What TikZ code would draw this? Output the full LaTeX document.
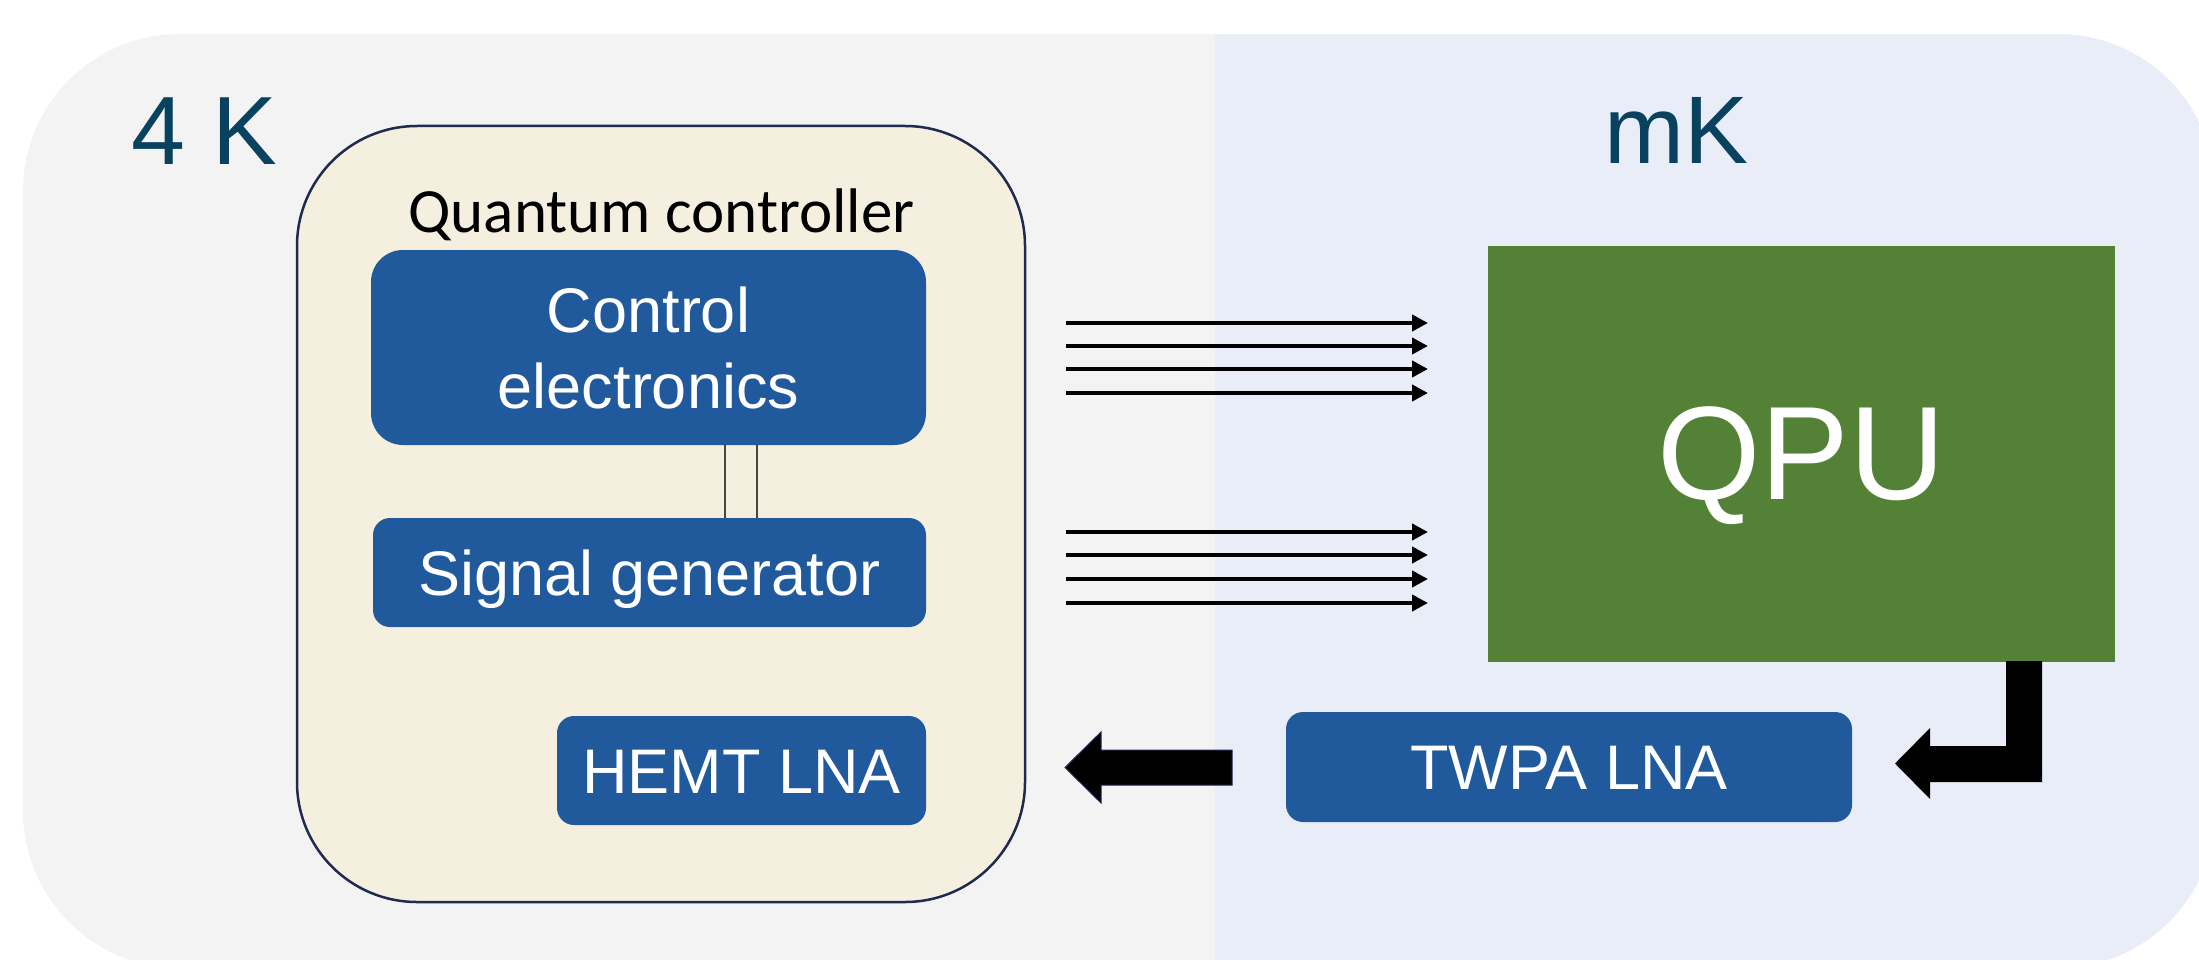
\documentclass[tikz,border=0pt]{standalone}
\usepackage{fontspec}
\setmainfont{Liberation Sans}
\newfontfamily\calib{Carlito}
\usetikzlibrary{arrows.meta}
\definecolor{bggray}{HTML}{F3F3F3}
\definecolor{bgblue}{HTML}{E9EDF7}
\definecolor{beige}{HTML}{F5EFDF}
\definecolor{navy}{HTML}{1F2B4E}
\definecolor{boxblue}{HTML}{215A9C}
\definecolor{qpugreen}{HTML}{538135}
\definecolor{tealtxt}{HTML}{08425F}
\definecolor{linkgray}{HTML}{4A4638}
\tikzset{
  bluebox/.style={draw=none, fill=boxblue, text=white, inner sep=0pt, align=center,
    font=\fontsize{63}{76}\selectfont},
  oneline/.style={text height=45pt, text depth=0pt},
  sig/.style={line width=4pt, -{Triangle[length=16pt,width=16pt]}},
  link/.style={draw=linkgray, line width=1.5pt},
  blockarrow/.style={fill=black}
}
\begin{document}
\begin{tikzpicture}[x=1pt,y=-1pt]
\useasboundingbox (0,0) rectangle (2199,960);
% background panels
\begin{scope}
\clip[rounded corners=157pt] (23,34) rectangle (2215,968);
\fill[bggray] (23,34) rectangle (1215,968);
\fill[bgblue] (1215,34) rectangle (2215,968);
\end{scope}
% temperature labels
\node[anchor=base west, inner sep=0pt, text=tealtxt, font=\fontsize{97}{110}\selectfont] (t4k) at (131,165) {4 K};
\node[anchor=base west, inner sep=0pt, text=tealtxt, font=\fontsize{96}{110}\selectfont] (tmk) at (1604,164) {mK};
% quantum controller
\node[draw=navy, line width=2.5pt, fill=beige, rounded corners=120pt, minimum width=728pt, minimum height=776pt, inner sep=0pt] (ctrl) at (661,514) {};
\node[anchor=base, inner sep=0pt, font=\calib\fontsize{63}{70}\selectfont] (ctitle) at (661.5,232) {Quantum controller};
\node[bluebox, rounded corners=32pt, minimum width=555pt, minimum height=195pt] (ce) at (648.5,347.5) {Control\\electronics};
\node[bluebox, oneline, rounded corners=17pt, minimum width=553pt, minimum height=109pt] (sg) at (649.5,572.5) {Signal generator};
\node[bluebox, oneline, rounded corners=17pt, minimum width=369pt, minimum height=109pt] (hemt) at (741.5,770.5) {HEMT LNA};
\draw[link] ([xshift=76.5pt]ce.south) -- ([xshift=76.5pt]ce.south |- sg.north);
\draw[link] ([xshift=108.5pt]ce.south) -- ([xshift=108.5pt]ce.south |- sg.north);
% QPU and TWPA
\node[fill=qpugreen, text=white, inner sep=0pt, minimum width=627pt, minimum height=416pt, text height=92pt, text depth=0pt, font=\fontsize{133}{140}\selectfont] (qpu) at (1801.5,453.5) {QPU};
\node[bluebox, oneline, rounded corners=17pt, minimum width=566pt, minimum height=110pt] (twpa) at (1569,767) {TWPA LNA};
% signal lines
\foreach \y [count=\i] in {323,346,369,393}{
  \coordinate (sa\i) at (1066,\y);
  \coordinate (ea\i) at (1428,\y);
  \draw[sig] (sa\i) -- (ea\i);
}
\foreach \y [count=\i] in {532,555,579,603}{
  \coordinate (sb\i) at (1066,\y);
  \coordinate (eb\i) at (1428,\y);
  \draw[sig] (sb\i) -- (eb\i);
}
% readout arrows
\draw[blockarrow, draw=navy, line width=1pt] (1232,750) -- (1101,750) -- (1101,732) -- (1065,767.5) -- (1101,803) -- (1101,785) -- (1232,785) -- cycle;
\fill[black] (2006,661) -- (2042,661) -- (2042,782) -- (1930,782) -- (1930,799) -- (1895,763.5) -- (1930,728) -- (1930,746) -- (2006,746) -- cycle;
\end{tikzpicture}
\end{document}
